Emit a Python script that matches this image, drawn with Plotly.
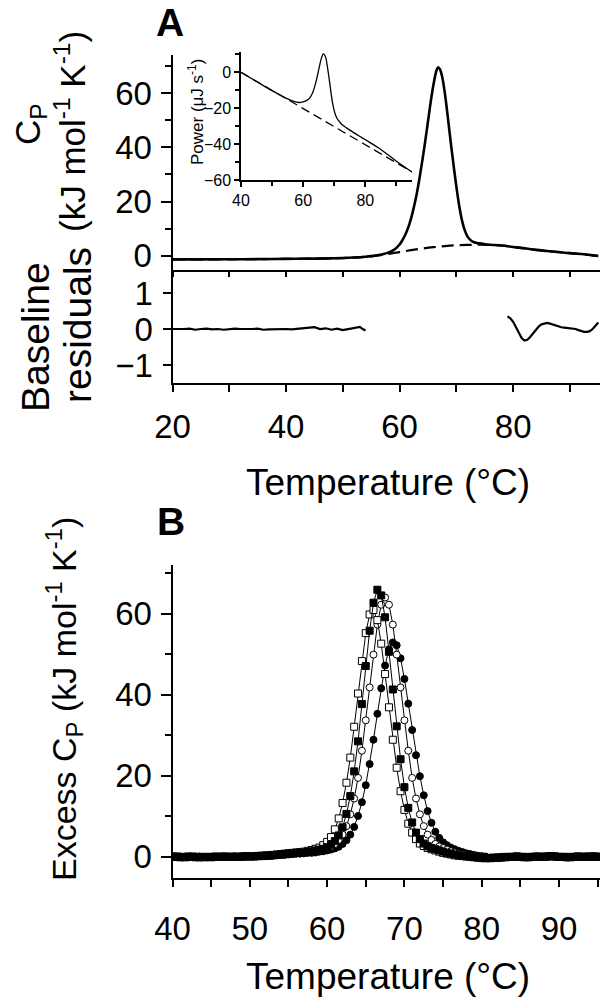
import numpy as np
import plotly.graph_objects as go

W, H = 603, 1002
FONT = "Liberation Sans, Arial, sans-serif"

# ---------------- Panel A : raw Cp and baseline ----------------
temp_a = [20, 25, 30, 35, 40, 45, 48, 50, 52, 54, 55, 56, 57, 58, 59, 60, 60.5, 61, 61.5, 62,
          62.5, 63, 63.5, 64, 64.5, 65, 65.5, 66, 66.5, 66.8, 67.1, 67.5, 68, 68.5, 69, 69.5,
          70, 70.5, 71, 71.5, 72, 72.5, 73, 74, 75, 76, 78, 80, 82, 84, 86, 88, 90, 92, 94, 95]
cp_a = [-1.3, -1.28, -1.25, -1.2, -1.1, -1.0, -0.9, -0.8, -0.6, -0.3, -0.1, 0.2, 0.6, 1.2, 2.2,
        4.2, 5.8, 7.8, 10.3, 13.6, 17.8, 22.6, 28.5, 35.0, 42.0, 49.5, 57.0, 63.5, 68.3, 69.5,
        68.8, 66.0, 59.5, 51.0, 42.0, 33.5, 25.5, 18.5, 13.0, 9.3, 7.0, 5.8, 5.1, 4.6, 4.3, 4.1,
        3.8, 3.3, 2.8, 2.2, 1.8, 1.4, 1.0, 0.7, 0.2, 0.0]
temp_base = [20, 30, 40, 50, 54, 56, 58, 60, 62, 64, 66, 68, 70, 72, 74, 76, 78, 80, 84, 90, 95]
cp_base = [-1.3, -1.25, -1.1, -0.8, -0.35, 0.1, 0.7, 1.4, 2.1, 2.7, 3.2, 3.6, 3.9, 4.05, 4.1,
           4.0, 3.8, 3.3, 2.2, 1.0, 0.0]

# residuals (gap where the transition was excluded)
temp_res = [20, 21, 22, 23, 24, 25, 26, 27, 28, 29, 30, 31, 32, 33, 34, 35, 36, 37, 38, 39, 40,
            41, 42, 43, 44, 45, 46, 47, 48, 49, 50, 51, 52, 53, 53.5, 54, None,
            79, 79.5, 80, 80.5, 81, 81.5, 82, 82.5, 83, 83.5, 84, 84.5, 85, 85.5, 86, 86.5, 87,
            87.5, 88, 88.5, 89, 89.5, 90, 90.5, 91, 91.5, 92, 92.5, 93, 93.5, 94, 94.5, 95]
resid = [0.0, -0.01, 0.0, 0.01, -0.02, 0.0, 0.01, -0.01, 0.0, -0.02, 0.0, 0.01, 0.0, -0.01, 0.0,
         0.01, -0.02, -0.01, 0.0, 0.01, 0.0, -0.01, 0.01, 0.02, 0.03, 0.05, 0.0, 0.02, -0.02, 0.01,
         -0.03, 0.0, 0.03, 0.06, 0.0, -0.04, None,
         0.35, 0.3, 0.2, 0.05, -0.1, -0.25, -0.32, -0.3, -0.22, -0.12, -0.02, 0.07, 0.13, 0.16,
         0.17, 0.15, 0.12, 0.1, 0.07, 0.05, 0.04, 0.03, 0.03, 0.02, 0.0, -0.03, -0.06, -0.08,
         -0.08, -0.06, 0.0, 0.08, 0.18]

# inset : raw power
temp_in = [40, 45, 50, 55, 57, 58.5, 60, 61, 62, 63, 64, 65, 65.8, 66.5, 67.2, 67.8, 68.5, 69,
           69.5, 70, 70.5, 71, 72, 73, 75, 78, 80, 85, 90, 95]
power_in = [0.0, -5.1, -10.2, -14.8, -16.2, -16.8, -16.5, -15.8, -14.5, -11.5, -6.0, 1.5, 7.5,
            10.3, 8.5, 3.0, -5.5, -12.0, -17.5, -21.5, -24.2, -26.0, -28.2, -29.8, -32.2, -35.5,
            -37.6, -43.0, -49.5, -55.5]
temp_in_base = [40, 95]
power_in_base = [0.0, -55.5]

# ---------------- Panel B : excess Cp ----------------
temp_b = np.arange(40, 95.01, 0.5)
open_sq = [0.1, 0.0, -0.1, 0.0, 0.1, 0.0, -0.1, -0.1, 0.0, 0.0, -0.1, 0.0, 0.0, 0.1, 0.0, 0.0,
           0.1, 0.0, 0.1, 0.2, 0.2, 0.2, 0.25, 0.3, 0.35, 0.4, 0.5, 0.6, 0.7, 0.8,
           0.9, 1.0, 1.1, 1.2, 1.3, 1.5, 1.7, 2.0, 2.3, 2.9, 3.7, 4.9, 6.8, 9.5, 13.3, 18.3, 24.5,
           32.1, 40.3, 48.3, 55.2, 59.8, 60.9, 58.4, 52.6, 45.1, 36.9, 28.9, 22.0, 16.2, 11.6, 8.2,
           6.0, 4.4, 3.3, 2.7, 2.2, 1.9, 1.6, 1.3, 1.0, 0.8, 0.6, 0.4, 0.3, 0.2, 0.1,
           0.0, -0.1, -0.2, -0.3, -0.3, -0.3, -0.2, -0.2, -0.1, -0.1, 0.0, 0.0, 0.1, 0.0, 0.0,
           -0.1, 0.0, 0.0, 0.1, 0.0, 0.1, 0.2, 0.1, 0.0, 0.0, -0.1, 0.0, 0.0, 0.1, 0.0, 0.0, 0.1,
           0.1, 0.0]
filled_sq = [0.0, 0.1, 0.0, -0.1, 0.0, 0.1, 0.0, 0.0, -0.1, 0.0, 0.0, 0.1, 0.0, 0.0, 0.1, 0.0,
             0.0, 0.0, 0.1, 0.1, 0.1, 0.1, 0.2, 0.2, 0.3, 0.3, 0.4, 0.5, 0.6, 0.7,
             0.8, 0.85, 1.0, 1.0, 1.1, 1.2, 1.4, 1.6, 1.8, 2.0, 2.4, 3.0, 3.9, 5.3, 7.3, 10.6,
             15.0, 21.1, 28.5, 37.7, 47.1, 55.8, 62.7, 65.9, 64.5, 59.1, 50.6, 41.3, 32.2, 24.1,
             17.2, 12.1, 8.5, 6.0, 4.4, 3.3, 2.6, 2.2, 1.9, 1.6, 1.3, 1.0, 0.8, 0.6, 0.4, 0.3, 0.2,
             0.1, 0.0, -0.1, -0.2, -0.3, -0.3, -0.2, -0.2, -0.1, 0.0, 0.0, 0.0, 0.1, 0.0, -0.1,
             0.0, 0.0, 0.1, 0.0, 0.0, 0.1, 0.2, 0.1, 0.0, 0.0, 0.0, -0.1, 0.0, 0.1, 0.0, 0.1, 0.0,
             0.1, 0.1]
open_ci = [0.0, 0.0, 0.1, 0.0, -0.1, 0.0, 0.0, 0.1, 0.0, -0.1, 0.0, 0.0, 0.0, 0.1, 0.0, 0.0,
           0.1, 0.0, 0.0, 0.1, 0.1, 0.1, 0.2, 0.2, 0.3, 0.3, 0.4, 0.5, 0.6, 0.7,
           0.8, 0.8, 0.9, 1.0, 1.1, 1.2, 1.3, 1.5, 1.7, 1.9, 2.2, 2.6, 3.2, 4.2, 5.5, 7.6, 10.5,
           14.4, 19.5, 26.2, 33.7, 41.8, 49.9, 57.3, 62.2, 64.0, 62.2, 57.3, 49.9, 41.8, 33.7,
           26.2, 19.5, 14.4, 10.5, 7.6, 5.5, 4.2, 3.2, 2.6, 2.2, 1.8, 1.4, 1.1, 0.8, 0.6, 0.4,
           0.3, 0.2, 0.1,
           -0.1, -0.2, -0.3, -0.3, -0.2, -0.2, -0.1, 0.0, 0.0, 0.1, 0.0, 0.0, -0.1, 0.0, 0.1,
           0.0, 0.0, 0.1, 0.2, 0.1, 0.0, 0.0, -0.1, 0.0, 0.0, 0.1, 0.0, 0.0, 0.1, 0.1, 0.0]
filled_ci = [0.0, 0.1, 0.0, 0.0, -0.1, 0.0, 0.1, 0.0, 0.0, -0.1, 0.0, 0.0, 0.1, 0.0, 0.0, 0.0,
             0.1, 0.0, 0.1, 0.1, 0.1, 0.1, 0.1, 0.2, 0.2, 0.3, 0.3, 0.4, 0.5, 0.5,
             0.6, 0.7, 0.8, 0.8, 0.9, 1.0, 1.0, 1.1, 1.3, 1.4, 1.6, 1.8, 2.1, 2.5, 3.2, 4.1, 5.5,
             7.4, 10.1, 13.5, 17.7, 22.9, 28.9, 35.3, 41.6, 47.2, 51.2, 52.9, 52.2, 49.0, 43.9,
             37.8, 31.3, 25.1, 19.9, 15.2, 11.3, 8.4, 6.2, 4.7, 3.6, 2.9, 2.3, 1.9, 1.5, 1.2, 0.9,
             0.7, 0.5, 0.3, 0.2, 0.1,
             -0.2, -0.3, -0.3, -0.2, -0.1, -0.1, 0.0, 0.0, 0.1, 0.0, 0.0, -0.1, 0.0, 0.0, 0.1,
             0.1, 0.2, 0.1, 0.0, 0.0, -0.1, 0.0, 0.1, 0.0, 0.0, 0.1, 0.0, 0.1, 0.0]


def fx(p):
    return p / W


def fy(p):
    return 1 - p / H


fig = go.Figure()

# panel A main
fig.add_trace(go.Scatter(x=temp_base, y=cp_base, mode="lines", xaxis="x", yaxis="y",
                         line=dict(color="black", width=2.2, dash="12px,6px", shape="spline")))
fig.add_trace(go.Scatter(x=temp_a, y=cp_a, mode="lines", xaxis="x", yaxis="y",
                         line=dict(color="black", width=2.6, shape="spline")))
# residuals
fig.add_trace(go.Scatter(x=temp_res, y=resid, mode="lines", xaxis="x2", yaxis="y2",
                         connectgaps=False, line=dict(color="black", width=2.2)))
# inset
fig.add_trace(go.Scatter(x=temp_in_base, y=power_in_base, mode="lines", xaxis="x3", yaxis="y3",
                         line=dict(color="black", width=1.3, dash="9px,5px")))
fig.add_trace(go.Scatter(x=temp_in, y=power_in, mode="lines", xaxis="x3", yaxis="y3",
                         line=dict(color="black", width=1.3, shape="spline")))

# panel B
series = [
    (filled_ci, "circle", "black"),
    (open_ci, "circle", "white"),
    (open_sq, "square", "white"),
    (filled_sq, "square", "black"),
]
for vals, sym, col in series:
    fig.add_trace(go.Scatter(x=temp_b[:len(vals)], y=vals, mode="lines+markers",
                             xaxis="x4", yaxis="y4",
                             line=dict(color="black", width=1),
                             marker=dict(symbol=sym, size=7, color=col,
                                         line=dict(color="black", width=1))))

tickfont = dict(family=FONT, size=33, color="black")
axis_common = dict(showline=True, linecolor="black", linewidth=2, ticks="outside",
                   tickcolor="black", tickwidth=2, showgrid=False, zeroline=False,
                   automargin=False)

x0, x1 = fx(172.5), fx(600)

fig.update_layout(
    width=W, height=H, margin=dict(l=0, r=0, t=0, b=0),
    paper_bgcolor="white", plot_bgcolor="white", showlegend=False,
    font=dict(family=FONT, color="black"),
    xaxis=dict(domain=[x0, x1], anchor="y", range=[20, 95.3], dtick=10, tick0=0,
               ticklen=5, showticklabels=False, **axis_common),
    yaxis=dict(domain=[fy(270), fy(55)], anchor="x", range=[-5.2, 74], dtick=20, tick0=0,
               ticklen=10, tickfont=tickfont, ticklabelstandoff=2,
               minor=dict(dtick=10, ticklen=6, tickwidth=2, tickcolor="black", ticks="outside"),
               **axis_common),
    xaxis2=dict(domain=[x0, x1], anchor="y2", range=[20, 95.3], dtick=20, tick0=0,
                ticklen=7, tickfont=tickfont, ticklabelstandoff=6,
                minor=dict(dtick=10, ticklen=7, tickwidth=2, tickcolor="black", ticks="outside"),
                **axis_common),
    yaxis2=dict(domain=[fy(383), fy(270)], anchor="x2", range=[-1.5, 1.64], dtick=1, tick0=0,
                ticklen=8, tickfont=tickfont, ticklabelstandoff=3, **axis_common),
    xaxis3=dict(domain=[fx(241), fx(412)], anchor="y3", range=[40, 95], dtick=20, tick0=0,
                ticklen=5, tickfont=dict(family=FONT, size=16, color="black"),
                minor=dict(dtick=10, ticklen=4, tickwidth=1.5, tickcolor="black", ticks="outside"),
                showline=True, linecolor="black", linewidth=1.5, ticks="outside",
                tickcolor="black", tickwidth=1.5, showgrid=False, zeroline=False, automargin=False),
    yaxis3=dict(domain=[fy(180), fy(51.7)], anchor="x3", range=[-60, 11.5], dtick=20, tick0=0,
                ticklen=5, tickfont=dict(family=FONT, size=16, color="black"),
                minor=dict(dtick=10, ticklen=4, tickwidth=1.5, tickcolor="black", ticks="outside"),
                showline=True, linecolor="black", linewidth=1.5, ticks="outside",
                tickcolor="black", tickwidth=1.5, showgrid=False, zeroline=False, automargin=False),
    xaxis4=dict(domain=[x0, x1], anchor="y4", range=[40, 95.3], dtick=10, tick0=0,
                ticklen=7, tickfont=tickfont, ticklabelstandoff=13,
                minor=dict(dtick=5, ticklen=7, tickwidth=2, tickcolor="black", ticks="outside"),
                **axis_common),
    yaxis4=dict(domain=[fy(878), fy(565)], anchor="x4", range=[-5.2, 72], dtick=20, tick0=0,
                ticklen=10, tickfont=tickfont, ticklabelstandoff=2,
                minor=dict(dtick=10, ticklen=6, tickwidth=2, tickcolor="black", ticks="outside"),
                **axis_common),
)

TS = 35


def ann(text, x, y, size=TS, angle=0):
    fig.add_annotation(text=text, x=fx(x), y=fy(y), xref="paper", yref="paper",
                       xanchor="center", yanchor="middle", showarrow=False, textangle=angle,
                       font=dict(family=FONT, size=size, color="black"))


ann("<b>A</b>", 170, 22, size=39)
ann("<b>B</b>", 171, 521, size=39)
ann("C<sub>P</sub>", 30, 124, angle=-90)
ann("(kJ mol<sup>-1</sup> K<sup>-1</sup>)", 70, 132, angle=-90)
ann("Baseline", 35, 337, size=39, angle=-90)
ann("residuals", 77, 325, size=39, angle=-90)
ann("Temperature (°C)", 388, 482, size=37)
ann("Excess C<sub>P</sub> (kJ mol<sup>-1</sup> K<sup>-1</sup>)", 64, 699, size=34, angle=-90)
ann("Temperature (°C)", 388, 976, size=37)
ann("Power (μJ s<sup>-1</sup>)", 196, 112, size=17, angle=-90)

fig.write_html("out.html", config={"displayModeBar": False},
               post_script="document.body.style.margin='0px';")
